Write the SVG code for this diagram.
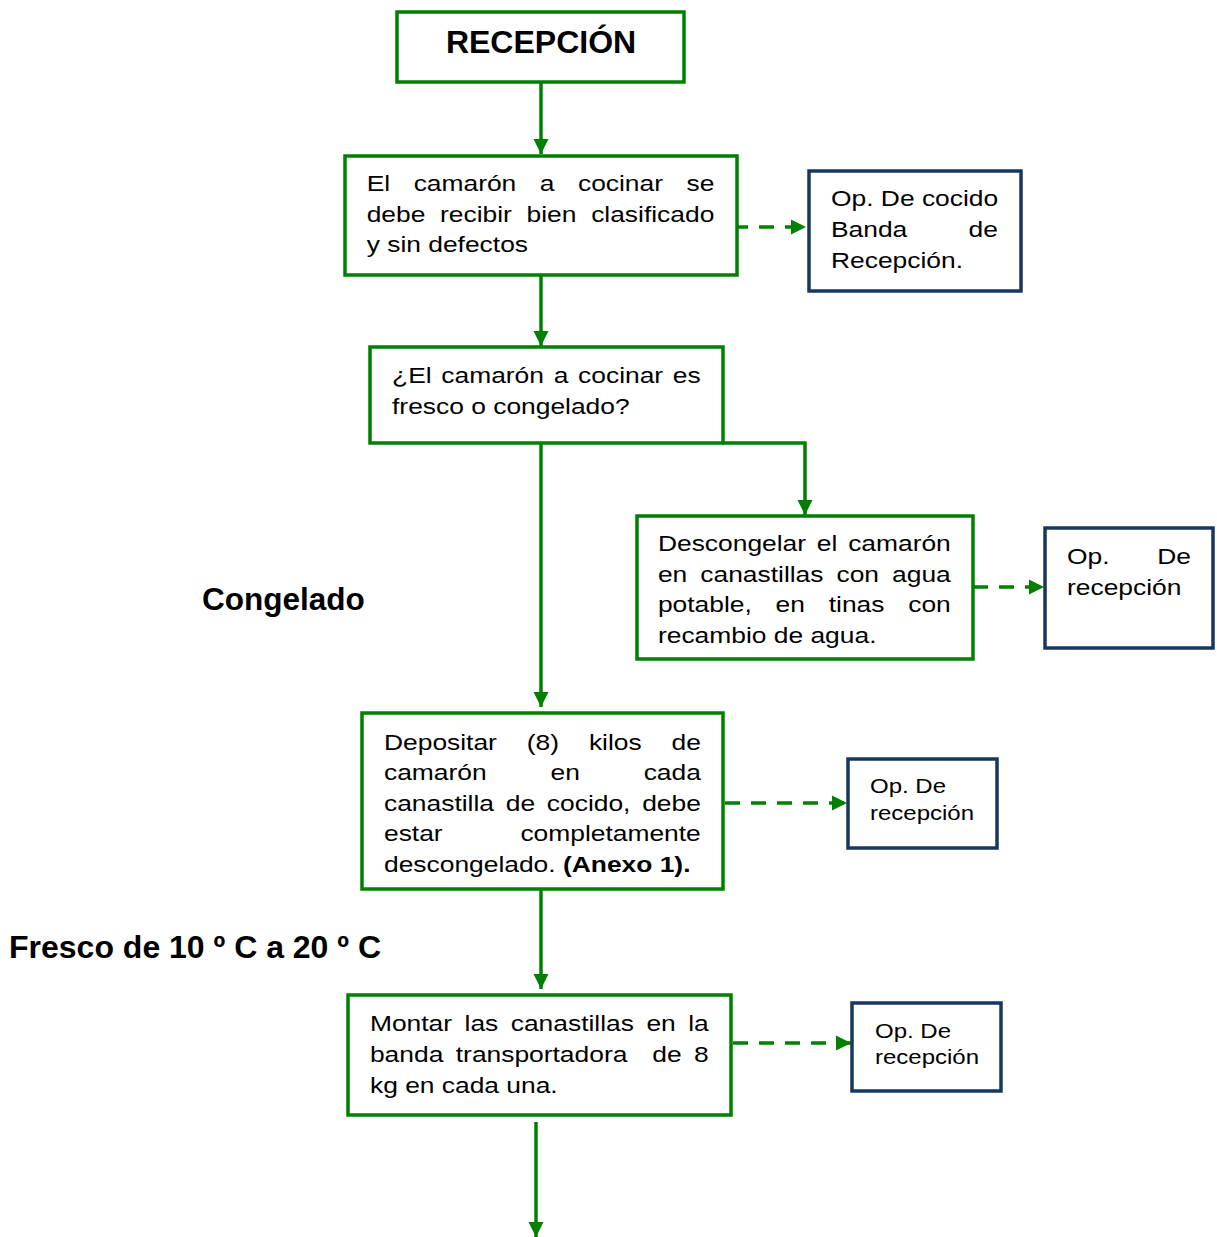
<svg xmlns="http://www.w3.org/2000/svg" width="1217" height="1237" viewBox="0 0 1217 1237">
<style>
.gb{fill:#fff;stroke:#008000;stroke-width:3.5}
.bb{fill:#fff;stroke:#17375E;stroke-width:3.5}
.t{font-family:"Liberation Sans",Arial,sans-serif;font-size:22px;fill:#000}
.s{font-family:"Liberation Sans",Arial,sans-serif;font-size:20px;fill:#000}
.bt{font-family:"Liberation Sans",Arial,sans-serif;font-weight:bold;fill:#000}
.c{fill:none;stroke:#008000;stroke-width:3.5}
.d{fill:none;stroke:#008000;stroke-width:3.5;stroke-dasharray:15 11}
</style>
<defs>
<marker id="ah" viewBox="0 0 10 10" refX="10" refY="5" markerWidth="15" markerHeight="16" markerUnits="userSpaceOnUse" orient="auto">
<path d="M0,0 L10,5 L0,10 z" fill="#008000"/>
</marker>
</defs>
<g id="connectors">
<path class="c" d="M541,83 V154" marker-end="url(#ah)"/>
<path class="c" d="M541,275 V346" marker-end="url(#ah)"/>
<path class="c" d="M541,443 V707" marker-end="url(#ah)"/>
<path class="c" d="M722,443 H805 V515" marker-end="url(#ah)"/>
<path class="c" d="M541,889 V989" marker-end="url(#ah)"/>
<path class="c" d="M536,1122 V1237" marker-end="url(#ah)"/>
<path class="d" d="M733,227 H806" marker-end="url(#ah)"/>
<path class="d" d="M973,587 H1044" marker-end="url(#ah)"/>
<path class="d" d="M725,803 H847" marker-end="url(#ah)"/>
<path class="d" d="M733,1043 H851" marker-end="url(#ah)"/>
</g>
<g id="recepcion">
<rect class="gb" x="397" y="12" width="287" height="70"/>
<text class="bt" x="541" y="53" font-size="32" text-anchor="middle">RECEPCIÓN</text>
</g>
<g id="clasificado">
<rect class="gb" x="345" y="156" width="392" height="119"/>
<g transform="scale(1.2 1)">
<text class="t" x="305.6" y="191" word-spacing="13.47">El camarón a cocinar se</text>
<text class="t" x="305.6" y="222" word-spacing="6.13">debe recibir bien clasificado</text>
<text class="t" x="305.6" y="252">y sin defectos</text>
</g>
</g>
<g id="op-cocido">
<rect class="bb" x="809" y="171" width="212" height="120"/>
<g transform="scale(1.2 1)">
<text class="t" x="692.5" y="206">Op. De cocido</text>
<text class="t" x="692.5" y="237" word-spacing="45">Banda de</text>
<text class="t" x="692.5" y="268">Recepción.</text>
</g>
</g>
<g id="fresco-congelado">
<rect class="gb" x="370" y="347" width="353" height="96"/>
<g transform="scale(1.2 1)">
<text class="t" x="326.7" y="383" word-spacing="2">¿El camarón a cocinar es</text>
<text class="t" x="326.7" y="414">fresco o congelado?</text>
</g>
</g>
<g id="descongelar">
<rect class="gb" x="637" y="516" width="336" height="143"/>
<g transform="scale(1.2 1)">
<text class="t" x="548.3" y="551" word-spacing="2.88">Descongelar el camarón</text>
<text class="t" x="548.3" y="582" word-spacing="4.74">en canastillas con agua</text>
<text class="t" x="548.3" y="612" word-spacing="13.7">potable, en tinas con</text>
<text class="t" x="548.3" y="643">recambio de agua.</text>
</g>
</g>
<g id="op-recepcion-1">
<rect class="bb" x="1045" y="528" width="168" height="120"/>
<g transform="scale(1.2 1)">
<text class="t" x="889.2" y="564" word-spacing="33.6">Op. De</text>
<text class="t" x="889.2" y="595">recepción</text>
</g>
</g>
<g id="depositar">
<rect class="gb" x="362" y="713" width="361" height="176"/>
<g transform="scale(1.2 1)">
<text class="t" x="320" y="750" word-spacing="18.8">Depositar (8) kilos de</text>
<text class="t" x="320" y="780" word-spacing="47.1">camarón en cada</text>
<text class="t" x="320" y="811" word-spacing="3.7">canastilla de cocido, debe</text>
<text class="t" x="320" y="841" word-spacing="58.7">estar completamente</text>
<text class="t" x="320" y="872">descongelado. <tspan font-weight="bold">(Anexo 1).</tspan></text>
</g>
</g>
<g id="op-recepcion-2">
<rect class="bb" x="848" y="759" width="149" height="89"/>
<g transform="scale(1.2 1)">
<text class="s" x="725" y="793">Op. De</text>
<text class="s" x="725" y="820">recepción</text>
</g>
</g>
<g id="montar">
<rect class="gb" x="348" y="995" width="383" height="120"/>
<g transform="scale(1.2 1)">
<text class="t" x="308.3" y="1031" word-spacing="4.3">Montar las canastillas en la</text>
<text class="t" x="308.3" y="1062" word-spacing="4.28" xml:space="preserve">banda transportadora  de 8</text>
<text class="t" x="308.3" y="1093">kg en cada una.</text>
</g>
</g>
<g id="op-recepcion-3">
<rect class="bb" x="852" y="1003" width="149" height="88"/>
<g transform="scale(1.2 1)">
<text class="s" x="729.2" y="1038">Op. De</text>
<text class="s" x="729.2" y="1064">recepción</text>
</g>
</g>
<g id="labels">
<text class="bt" x="202" y="610" font-size="31.5">Congelado</text>
<text class="bt" x="9" y="958" font-size="32">Fresco de 10 º C a 20 º C</text>
</g>
</svg>
